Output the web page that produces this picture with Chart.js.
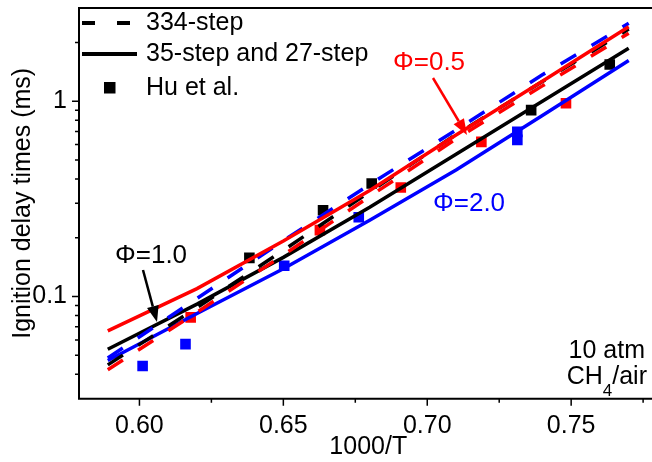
<!DOCTYPE html>
<html>
<head>
<meta charset="utf-8">
<script src="https://cdn.jsdelivr.net/npm/chart.js@4"></script>
<style>
  html, body { margin: 0; padding: 0; background: #fff; }
  #wrap { width: 652px; height: 462px; overflow: hidden; }
  canvas { display: block; }
</style>
</head>
<body>
<div id="wrap"><canvas id="chart" width="665" height="462"></canvas></div>
<script>
// 1000/T where the model curves were sampled
const invTemp = [0.589, 0.62, 0.65, 0.68, 0.71, 0.74, 0.77];

// ignition delay times (ms), 334-step mechanism
const detailedPhi05 = [0.0422, 0.0831, 0.1633, 0.3256, 0.6414, 1.198, 2.227];
const detailedPhi10 = [0.0447, 0.0879, 0.1724, 0.3440, 0.6754, 1.260, 2.339];
const detailedPhi20 = [0.0485, 0.0978, 0.1931, 0.3747, 0.7123, 1.365, 2.503];

// 35-step and 27-step mechanisms
const reducedPhi05 = [0.0667, 0.1098, 0.1924, 0.3493, 0.6722, 1.264, 2.403];
const reducedPhi10 = [0.0537, 0.0915, 0.1587, 0.2863, 0.5353, 0.9988, 1.866];
const reducedPhi20 = [0.0471, 0.0819, 0.1387, 0.2457, 0.4448, 0.8440, 1.615];

// Hu et al. measurements
const huPhi05T = [0.6178, 0.6627, 0.6908, 0.7188, 0.7482];
const huPhi05 = [0.0782, 0.2188, 0.3618, 0.6193, 0.9768];
const huPhi10T = [0.6382, 0.6638, 0.6807, 0.7361, 0.7634];
const huPhi10 = [0.1578, 0.2764, 0.3791, 0.9000, 1.541];
const huPhi20T = [0.6011, 0.6160, 0.6503, 0.6762, 0.7313, 0.7313];
const huPhi20 = [0.0441, 0.0571, 0.1437, 0.2547, 0.6963, 0.6339];

// axis ticks
const xMajor = [0.60, 0.65, 0.70, 0.75];
const xMinor = [0.625, 0.675, 0.725, 0.775];
const yMajor = [0.1, 1];
const yMinor = [0.04, 0.05, 0.06, 0.07, 0.08, 0.09, 0.2, 0.3, 0.4, 0.5, 0.6, 0.7, 0.8, 0.9, 2];

const legendLabels = ['334-step', '35-step and 27-step', 'Hu et al.'];

const RED = '#ff0000', BLUE = '#0000ff', BLACK = '#000000';
const FONT = '"Liberation Sans", Arial, sans-serif';

function pts(xs, ys) {
    return xs.map((x, i) => ({ x: x, y: ys[i] }));
}

function modelLine(label, ys, color, dashed, order) {
    return {
        type: 'line',
        label: label,
        data: pts(invTemp, ys),
        borderColor: color,
        borderWidth: 3.5,
        borderDash: dashed ? [18, 18] : [],
        borderCapStyle: 'butt',
        pointRadius: 0,
        fill: false,
        tension: 0,
        order: order
    };
}

function expPoints(label, xs, ys, color) {
    return {
        type: 'scatter',
        label: label,
        data: pts(xs, ys),
        pointStyle: 'rect',
        pointRadius: 7.5,
        backgroundColor: color,
        borderWidth: 0,
        showLine: false,
        order: 20
    };
}

function drawArrow(ctx, x1, y1, x2, y2, color) {
    const ang = Math.atan2(y2 - y1, x2 - x1);
    const headLen = 16, headW = 6;
    const bx = x2 - headLen * Math.cos(ang), by = y2 - headLen * Math.sin(ang);
    ctx.strokeStyle = color;
    ctx.fillStyle = color;
    ctx.lineWidth = 2.5;
    ctx.setLineDash([]);
    ctx.beginPath();
    ctx.moveTo(x1, y1);
    ctx.lineTo(bx, by);
    ctx.stroke();
    ctx.beginPath();
    ctx.moveTo(x2, y2);
    ctx.lineTo(bx + headW * Math.sin(ang), by - headW * Math.cos(ang));
    ctx.lineTo(bx - headW * Math.sin(ang), by + headW * Math.cos(ang));
    ctx.closePath();
    ctx.fill();
}

// no extra room for half tick labels, the frame fills the canvas like the original
function noLabelPadding(s) {
    s.paddingTop = 0;
    s.paddingBottom = 0;
    s.paddingLeft = 0;
    s.paddingRight = 0;
}

// frame, minor/major ticks, legend and the labels written on the plot
const decorations = {
    id: 'decorations',
    afterDraw(chart) {
        const ctx = chart.ctx;
        const a = chart.chartArea;
        const xs = chart.scales.x, ys = chart.scales.y;
        ctx.save();
        ctx.strokeStyle = BLACK;
        ctx.lineWidth = 2;
        ctx.setLineDash([]);
        ctx.beginPath();
        ctx.moveTo(a.right, a.top);
        ctx.lineTo(a.left, a.top);
        ctx.lineTo(a.left, a.bottom);
        ctx.lineTo(a.right, a.bottom);
        ctx.stroke();

        ctx.lineWidth = 1.5;
        ctx.beginPath();
        xMajor.concat(xMinor).forEach(v => {
            const p = xs.getPixelForValue(v);
            const len = xMajor.includes(v) ? 7 : 4;
            ctx.moveTo(p, a.bottom);
            ctx.lineTo(p, a.bottom + len);
        });
        yMajor.concat(yMinor).forEach(v => {
            const p = ys.getPixelForValue(v);
            const len = yMajor.includes(v) ? 7 : 4;
            ctx.moveTo(a.left, p);
            ctx.lineTo(a.left - len, p);
        });
        ctx.stroke();

        // legend
        ctx.lineWidth = 4;
        ctx.setLineDash([13, 22]);
        ctx.beginPath();
        ctx.moveTo(82, 23);
        ctx.lineTo(137, 23);
        ctx.stroke();
        ctx.setLineDash([]);
        ctx.beginPath();
        ctx.moveTo(82, 54);
        ctx.lineTo(137, 54);
        ctx.stroke();
        ctx.fillStyle = BLACK;
        ctx.fillRect(104, 82, 11.5, 11.5);
        ctx.font = '25px ' + FONT;
        ctx.textBaseline = 'middle';
        ctx.textAlign = 'left';
        ctx.fillText(legendLabels[0], 146, 23);
        ctx.fillText(legendLabels[1], 146, 54);
        ctx.fillText(legendLabels[2], 146, 88);

        // equivalence ratio labels
        ctx.font = '26px ' + FONT;
        ctx.fillStyle = RED;
        ctx.fillText('\u03A6=0.5', 393, 63);
        drawArrow(ctx, 433, 78, 467, 135, RED);
        ctx.fillStyle = BLACK;
        ctx.fillText('\u03A6=1.0', 115, 256);
        drawArrow(ctx, 143, 270, 157, 322, BLACK);
        ctx.fillStyle = BLUE;
        ctx.fillText('\u03A6=2.0', 433, 204);

        // conditions
        ctx.fillStyle = BLACK;
        ctx.font = '25px ' + FONT;
        ctx.textAlign = 'right';
        ctx.fillText('10 atm', 645, 351);
        ctx.textAlign = 'left';
        const wAir = ctx.measureText('/air').width;
        const wCH = ctx.measureText('CH').width;
        ctx.font = '17px ' + FONT;
        const w4 = ctx.measureText('4').width;
        let x0 = 647 - wAir - w4 - wCH;
        ctx.font = '25px ' + FONT;
        ctx.fillText('CH', x0, 377);
        ctx.font = '17px ' + FONT;
        ctx.fillText('4', x0 + wCH, 391);
        ctx.font = '25px ' + FONT;
        ctx.fillText('/air', x0 + wCH + w4, 377);
        ctx.restore();
    }
};

const ctx = document.getElementById('chart').getContext('2d');
const chart = new Chart(ctx, {
    type: 'line',
    data: {
        datasets: [
            modelLine('35-step, phi=0.5', reducedPhi05, RED, false, 1),
            modelLine('334-step, phi=1.0', detailedPhi10, BLACK, true, 2),
            modelLine('334-step, phi=0.5', detailedPhi05, RED, true, 3),
            modelLine('334-step, phi=2.0', detailedPhi20, BLUE, true, 4),
            modelLine('35-step, phi=1.0', reducedPhi10, BLACK, false, 5),
            modelLine('35-step, phi=2.0', reducedPhi20, BLUE, false, 6),
            expPoints('Hu et al., phi=0.5', huPhi05T, huPhi05, RED),
            expPoints('Hu et al., phi=1.0', huPhi10T, huPhi10, BLACK),
            expPoints('Hu et al., phi=2.0', huPhi20T, huPhi20, BLUE)
        ]
    },
    options: {
        responsive: false,
        animation: false,
        devicePixelRatio: 1,
        layout: { padding: { top: 8, right: 7, left: 0, bottom: 0 } },
        plugins: { legend: { display: false }, tooltip: { enabled: false } },
        scales: {
            x: {
                type: 'linear',
                min: 0.579,
                max: 0.78,
                afterBuildTicks: s => { s.ticks = xMajor.map(v => ({ value: v })); },
                afterFit: s => { s.height = 63.3; noLabelPadding(s); },
                grid: { display: false, drawTicks: true, tickLength: 7 },
                border: { display: false },
                ticks: {
                    padding: 5,
                    color: BLACK,
                    maxRotation: 0,
                    autoSkip: false,
                    font: { family: FONT, size: 25 },
                    callback: v => v.toFixed(2)
                },
                title: {
                    display: true,
                    text: '1000/T',
                    color: BLACK,
                    font: { family: FONT, size: 25 },
                    padding: { top: 0, bottom: 0 }
                }
            },
            y: {
                type: 'logarithmic',
                min: 0.03,
                max: 3,
                afterBuildTicks: s => { s.ticks = yMajor.map(v => ({ value: v })); },
                afterFit: s => { s.width = 79; noLabelPadding(s); },
                grid: { display: false, drawTicks: true, tickLength: 7 },
                border: { display: false },
                ticks: {
                    padding: 5,
                    color: BLACK,
                    autoSkip: false,
                    font: { family: FONT, size: 25 },
                    callback: v => String(v)
                },
                title: {
                    display: true,
                    text: 'Ignition delay times (ms)',
                    color: BLACK,
                    font: { family: FONT, size: 25 },
                    padding: { top: 8, bottom: 0 }
                }
            }
        }
    },
    plugins: [decorations]
});
</script>
</body>
</html>
